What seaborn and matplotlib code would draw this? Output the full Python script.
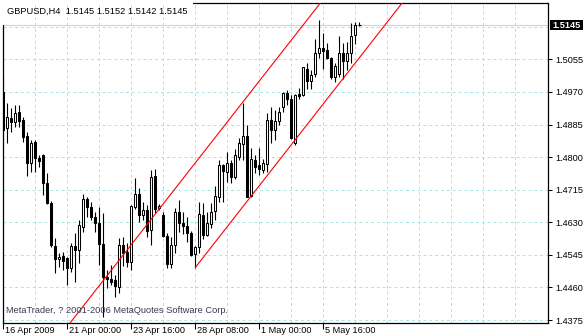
import numpy as np
import pandas as pd
import matplotlib
matplotlib.use("Agg")
import matplotlib.pyplot as plt
import seaborn as sns
from matplotlib.patches import Rectangle
from matplotlib.transforms import ScaledTranslation

# ---------------- data (GBPUSD, H4) ----------------
opens = [1.4970, 1.4875, 1.4901, 1.4892, 1.4917, 1.4898, 1.4855, 1.4784, 1.4839, 1.4798,
         1.4805, 1.4732, 1.4681, 1.4568, 1.4534, 1.4542, 1.4536, 1.4512, 1.4568, 1.4559,
         1.4618, 1.4690, 1.4671, 1.4644, 1.4629, 1.4573, 1.4486, 1.4481, 1.4479, 1.4462,
         1.4571, 1.4553, 1.4527, 1.4671, 1.4704, 1.4649, 1.4662, 1.4610, 1.4751, 1.4666,
         1.4649, 1.4594, 1.4521, 1.4571, 1.4657, 1.4627, 1.4620, 1.4603, 1.4546, 1.4566,
         1.4649, 1.4597, 1.4625, 1.4660, 1.4695, 1.4779, 1.4762, 1.4784, 1.4749, 1.4801,
         1.4834, 1.4855, 1.4698, 1.4792, 1.4779, 1.4766, 1.4782, 1.4898, 1.4871, 1.4895,
         1.4931, 1.4968, 1.4953, 1.4836, 1.4964, 1.4962, 1.5031, 1.4999, 1.5016, 1.5071,
         1.5086, 1.5079, 1.5058, 1.5010, 1.5018, 1.5072, 1.5051, 1.5072, 1.5118, 1.5145]
highs = [1.5011, 1.4942, 1.4927, 1.4936, 1.4936, 1.4904, 1.4866, 1.4846, 1.4844, 1.4805,
         1.4808, 1.4758, 1.4686, 1.4588, 1.4551, 1.4553, 1.4539, 1.4575, 1.4603, 1.4636,
         1.4703, 1.4697, 1.4684, 1.4657, 1.4671, 1.4653, 1.4505, 1.4518, 1.4492, 1.4588,
         1.4592, 1.4575, 1.4675, 1.4745, 1.4719, 1.4684, 1.4675, 1.4766, 1.4768, 1.4679,
         1.4657, 1.4601, 1.4592, 1.4666, 1.4688, 1.4657, 1.4644, 1.4607, 1.4568, 1.4684,
         1.4681, 1.4657, 1.4681, 1.4725, 1.4792, 1.4782, 1.4814, 1.4792, 1.4820, 1.4849,
         1.4942, 1.4884, 1.4823, 1.4805, 1.4823, 1.4794, 1.4916, 1.4931, 1.4923, 1.4931,
         1.4970, 1.4975, 1.4962, 1.4964, 1.4980, 1.5036, 1.5045, 1.5027, 1.5107, 1.5159,
         1.5124, 1.5097, 1.5061, 1.5045, 1.5116, 1.5097, 1.5101, 1.5149, 1.5153, 1.5152]
lows = [1.4866, 1.4836, 1.4866, 1.4879, 1.4879, 1.4840, 1.4751, 1.4760, 1.4762, 1.4775,
        1.4701, 1.4679, 1.4566, 1.4497, 1.4514, 1.4505, 1.4466, 1.4501, 1.4475, 1.4523,
        1.4605, 1.4644, 1.4636, 1.4605, 1.4518, 1.4384, 1.4458, 1.4466, 1.4436, 1.4446,
        1.4516, 1.4514, 1.4505, 1.4664, 1.4631, 1.4636, 1.4592, 1.4572, 1.4653, 1.4662,
        1.4592, 1.4510, 1.4510, 1.4551, 1.4605, 1.4599, 1.4579, 1.4542, 1.4512, 1.4551,
        1.4586, 1.4594, 1.4614, 1.4636, 1.4684, 1.4684, 1.4736, 1.4732, 1.4742, 1.4792,
        1.4792, 1.4696, 1.4696, 1.4758, 1.4753, 1.4758, 1.4762, 1.4837, 1.4844, 1.4884,
        1.4918, 1.4936, 1.4847, 1.4831, 1.4951, 1.4959, 1.4979, 1.4977, 1.5010, 1.5058,
        1.5029, 1.5055, 1.5003, 1.4997, 1.5010, 1.5005, 1.5027, 1.5045, 1.5095, 1.5142]
closes = [1.4871, 1.4904, 1.4892, 1.4914, 1.4895, 1.4853, 1.4784, 1.4836, 1.4799, 1.4790,
          1.4732, 1.4681, 1.4571, 1.4533, 1.4540, 1.4530, 1.4512, 1.4568, 1.4558, 1.4623,
          1.4690, 1.4671, 1.4643, 1.4627, 1.4573, 1.4488, 1.4481, 1.4475, 1.4464, 1.4571,
          1.4551, 1.4527, 1.4672, 1.4705, 1.4649, 1.4662, 1.4608, 1.4749, 1.4664, 1.4672,
          1.4594, 1.4521, 1.4571, 1.4657, 1.4629, 1.4620, 1.4601, 1.4545, 1.4566, 1.4651,
          1.4597, 1.4627, 1.4657, 1.4698, 1.4779, 1.4764, 1.4785, 1.4749, 1.4805, 1.4836,
          1.4855, 1.4697, 1.4794, 1.4775, 1.4768, 1.4784, 1.4898, 1.4871, 1.4894, 1.4918,
          1.4968, 1.4951, 1.4849, 1.4962, 1.4959, 1.5034, 1.4999, 1.5014, 1.5071, 1.5086,
          1.5077, 1.5060, 1.5010, 1.5037, 1.5072, 1.5051, 1.5072, 1.5116, 1.5144, 1.5145]

# channel lines (bar index, price)
lower_line_bars = [48, 100]
lower_line_prices = [1.4512, 1.5206]
upper_line_bars = [10, 100]
upper_line_prices = [1.4278, 1.5479]

price_ticks = [1.4375, 1.4460, 1.4545, 1.4630, 1.4715, 1.4800, 1.4885, 1.4970, 1.5055]
grid_prices = price_ticks + [1.5140]
time_tick_bars = [0, 16, 32, 48, 64, 80]
time_tick_labels = ["16 Apr 2009", "21 Apr 00:00", "23 Apr 16:00",
                    "28 Apr 08:00", "1 May 00:00", "5 May 16:00"]
grid_bars = [8, 16, 24, 32, 40, 48, 56, 64, 72, 80, 88, 96, 104, 112, 120, 128]
current_price = 1.5145
header = "GBPUSD,H4  1.5145 1.5152 1.5142 1.5145"
copyright_text = "MetaTrader, ? 2001-2006 MetaQuotes Software Corp."

df = pd.DataFrame({"open": opens, "high": highs, "low": lows, "close": closes})
df["bar"] = np.arange(len(df))

# ---------------- figure ----------------
sns.set_theme(style="white")
plt.rcParams["font.family"] = ["Liberation Sans", "DejaVu Sans"]

W, H = 584, 336
fig = plt.figure(figsize=(W / 100, H / 100), dpi=100)
fig.patch.set_facecolor("white")
ax = fig.add_axes([2.7 / W, 13.3 / H, 545 / W, 320 / H])
ax.set_facecolor("white")

GRID = "#a9e4e4"
ax.set_xlim(-0.15, 136.1)
ax.set_ylim(1.4368, 1.5203)

for p in grid_prices:
    ax.axhline(p, color=GRID, lw=0.7, ls=(0, (3, 3)), zorder=0)
for b in grid_bars:
    ax.axvline(b, color=GRID, lw=0.7, ls=(0, (3, 3)), zorder=0)
ax.axhline(current_price, color=GRID, lw=0.8, zorder=0.5)

# wicks
ax.vlines(df["bar"], df["low"], df["high"], color="black", lw=0.8, zorder=2)
# bodies
bull = df[df["close"] > df["open"]]
bear = df[df["close"] < df["open"]]
flat = df[df["close"] == df["open"]]
ax.bar(bull["bar"], bull["close"] - bull["open"], bottom=bull["open"], width=0.5,
       color="white", edgecolor="black", linewidth=0.75, zorder=3)
ax.bar(bear["bar"], bear["open"] - bear["close"], bottom=bear["close"], width=0.5,
       color="black", edgecolor="black", linewidth=0.75, zorder=3)
ax.hlines(flat["close"], flat["bar"] - 0.4, flat["bar"] + 0.4, color="black", lw=0.8, zorder=3)

# channel
sns.lineplot(x=lower_line_bars, y=lower_line_prices, ax=ax, color="red", lw=0.8, zorder=4)
sns.lineplot(x=upper_line_bars, y=upper_line_prices, ax=ax, color="red", lw=0.8, zorder=4)

# axes styling
ax.yaxis.tick_right()
ax.set_yticks(price_ticks)
ax.set_yticklabels([f"{p:.4f}" for p in price_ticks])
ax.set_xticks(time_tick_bars)
ax.set_xticklabels(time_tick_labels)
ax.tick_params(axis="y", which="both", right=True, left=False, direction="out",
               length=3, width=0.75, color="black", labelsize=6.6, pad=2.5,
               labelcolor="black")
ax.tick_params(axis="x", which="both", bottom=True, direction="out", length=4,
               width=0.75, color="black", labelsize=6.6, pad=0.5, labelcolor="black")
off = ScaledTranslation(2 / 100, 2.5 / 100, fig.dpi_scale_trans)
for lab in ax.get_xticklabels():
    lab.set_horizontalalignment("left")
    lab.set_transform(lab.get_transform() + off)
ax.set_xlabel("")
ax.set_ylabel("")
ax.grid(False)

for s in ["top", "left"]:
    ax.spines[s].set_visible(False)
for s in ["right", "bottom"]:
    ax.spines[s].set_color("black")
    ax.spines[s].set_linewidth(0.9)
ax.plot([0.349, 1], [1, 1], transform=ax.transAxes, color="black", lw=0.9, clip_on=False)
ax.plot([0, 0], [0, 0.93], transform=ax.transAxes, color="black", lw=0.9, clip_on=False)

# texts
fig.text(7 / W, 1 - 11 / H, header, fontsize=6.7, color="black", va="center", ha="left")
fig.text(6 / W, 1 - 310.5 / H, copyright_text, fontsize=6.7, color="#3a3a4e",
         va="center", ha="left")
fig.patches.append(Rectangle((550 / W, 1 - 29.5 / H), 33 / W, 9 / H,
                             transform=fig.transFigure, facecolor="black",
                             edgecolor="none", zorder=5))
fig.text(566.5 / W, 1 - 25 / H, f"{current_price:.4f}", fontsize=6.6, color="white",
         va="center", ha="center", fontweight="bold", zorder=6)

fig.savefig("out.png", dpi=100, facecolor="white")
